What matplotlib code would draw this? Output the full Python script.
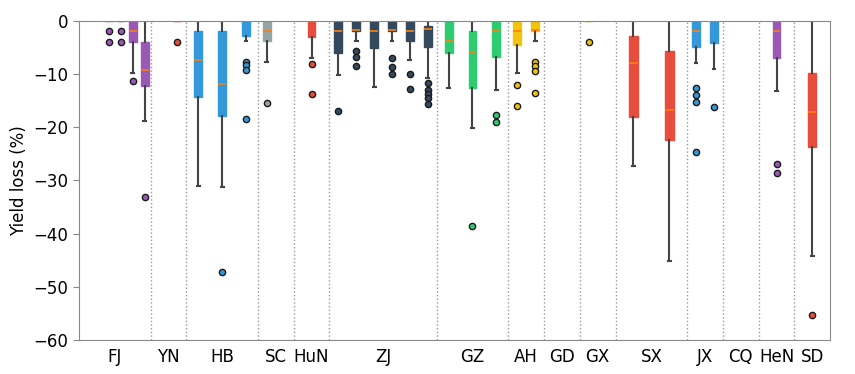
import matplotlib
matplotlib.use("Agg")
import matplotlib.pyplot as plt
import numpy as np

# provinces along the x axis
groups = ["FJ", "YN", "HB", "SC", "HuN", "ZJ", "GZ", "AH", "GD", "GX", "SX", "JX", "CQ", "HeN", "SD"]
group_span = [2, 1, 2, 1, 1, 3, 2, 1, 1, 1, 2, 1, 1, 1, 1]
group_slots = [6, 2, 3, 2, 1, 6, 3, 2, 1, 2, 2, 2, 1, 1, 1]
group_colors = ["#9b59b6", "#e74c3c", "#3498db", "#95a5a6", "#e74c3c", "#34495e", "#2ecc71",
                "#f1c40f", "#f1c40f", "#f1c40f", "#e74c3c", "#3498db", "#3498db", "#9b59b6", "#e74c3c"]

# one entry per box
box_group = ["FJ", "FJ", "FJ", "FJ", "YN", "HB", "HB", "HB", "SC", "HuN",
             "ZJ", "ZJ", "ZJ", "ZJ", "ZJ", "ZJ", "GZ", "GZ", "GZ", "AH", "AH",
             "GX", "SX", "SX", "JX", "JX", "HeN", "SD"]
box_slot = [2, 3, 4, 5, 1, 0, 1, 2, 0, 0,
            0, 1, 2, 3, 4, 5, 0, 1, 2, 0, 1,
            0, 0, 1, 0, 1, 0, 0]
whishi = [0, 0, 0, 0, 0, 0, 0, 0, 0, 0,
          0, 0, 0, 0, 0, 0, 0, 0, 0, 0, 0,
          0, 0, 0, 0, 0, 0, 0]
q3 = [0, 0, 0, -4.0, 0, -1.9, -1.9, 0, 0, 0,
      0, 0, 0, 0, 0, -1.0, 0, -1.9, 0, 0, 0,
      0, -2.9, -5.7, 0, 0, 0, -9.8]
med = [0, 0, -2.0, -9.3, 0, -7.3, -11.9, 0, -1.9, 0,
       -1.9, -1.8, -1.9, -1.8, -1.9, -1.6, -3.9, -5.9, -1.9, -1.9, -1.8,
       0, -7.9, -16.8, -1.9, 0, -1.9, -17.2]
q1 = [0, 0, -4.0, -12.3, 0, -14.3, -18.0, -2.9, -3.9, -3.0,
      -6.0, -1.9, -5.2, -1.9, -3.9, -4.9, -6.0, -12.7, -6.9, -4.5, -1.9,
      0, -18.1, -22.5, -5.0, -4.1, -7.1, -23.7]
whislo = [0, 0, -9.8, -18.9, 0, -31.0, -31.3, -3.9, -7.8, -7.0,
          -10.2, -3.8, -12.5, -3.8, -7.4, -10.8, -12.6, -20.1, -13.1, -9.9, -3.8,
          0, -27.3, -45.1, -8.0, -9.1, -13.3, -44.2]
fliers = [[-2, -4], [-2, -4], [-11.3], [-33.1], [-4.0], [], [-47.3], [-7.7, -8.4, -9.3, -18.5],
          [-15.5], [-8.1, -13.8],
          [-17.0], [-5.7, -6.9, -8.5], [], [-7.1, -8.7, -10.0], [-10.1, -12.8],
          [-11.8, -13.0, -13.8, -14.6, -15.7],
          [], [-38.5], [-17.8, -19.1], [-12.1, -16.0], [-7.7, -8.5, -9.4, -13.6],
          [-4.0], [], [], [-12.7, -14.0, -15.2, -24.6], [-16.3], [-27.0, -28.6], [-55.3]]

fig = plt.figure(figsize=(8.55, 3.74), dpi=100)
ax = fig.add_axes([0.0924, 0.0909, 0.8786, 0.8538])

edges = np.concatenate([[0], np.cumsum(group_span)])
centers = (edges[:-1] + edges[1:]) / 2

for i in range(len(box_group)):
    g = groups.index(box_group[i])
    step = group_span[g] / group_slots[g]
    pos = edges[g] + (box_slot[i] + 0.5) * step
    c = group_colors[g]
    w = 0.26 if box_group[i] == "SX" else 0.22
    stats = [dict(med=med[i], q1=q1[i], q3=q3[i], whislo=whislo[i], whishi=whishi[i],
                  fliers=fliers[i])]
    ax.bxp(stats, positions=[pos], widths=w, capwidths=0.08, patch_artist=True,
           showfliers=True,
           boxprops=dict(facecolor=c, edgecolor=c, linewidth=1),
           medianprops=dict(color="#ff7f0e", linewidth=1.2),
           whiskerprops=dict(color="#444444", linewidth=1.5),
           capprops=dict(color="#444444", linewidth=1.5),
           flierprops=dict(marker="o", markerfacecolor=c, markeredgecolor="#1a1a1a",
                           markersize=4.5, markeredgewidth=1))

for x in edges[1:-1]:
    ax.axvline(x, color="#999999", linestyle=":", linewidth=1, zorder=0)

ax.set_xlim(0, edges[-1])
ax.set_ylim(-60, 0)
ax.set_xticks(centers)
ax.set_xticklabels(groups, fontsize=12)
ax.tick_params(axis="x", length=0, pad=6)
ax.set_yticks(np.arange(-60, 1, 10))
ax.tick_params(axis="y", labelsize=12, length=4, color="#888888")
ax.set_ylabel("Yield loss (%)", fontsize=12)
for s in ax.spines.values():
    s.set_color("#888888")
    s.set_zorder(5)

fig.savefig("out.png", dpi=100)
